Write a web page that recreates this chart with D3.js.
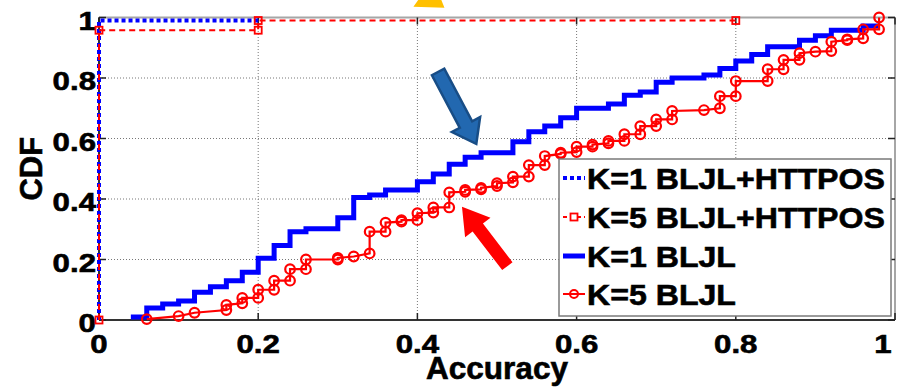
<!DOCTYPE html>
<html>
<head>
<meta charset="utf-8">
<script src="https://cdn.jsdelivr.net/npm/d3@7"></script>
<style>
  html, body { margin: 0; padding: 0; background: #ffffff; }
  svg { display: block; font-family: "Liberation Sans", Arial, sans-serif; font-weight: bold; }
  svg text { stroke: #000; stroke-width: 0.6px; }
</style>
</head>
<body>
<svg id="chart" width="913" height="387"></svg>
<script>
// ---- data ----------------------------------------------------------------
const xTicks = [0, 0.2, 0.4, 0.6, 0.8, 1];
const yTicks = [0, 0.2, 0.4, 0.6, 0.8, 1];
const xTickLabels = ["0", "0.2", "0.4", "0.6", "0.8", "1"];
const yTickLabels = ["0", "0.2", "0.4", "0.6", "0.8", "1"];

const legendLabels = ["K=1 BLJL+HTTPOS", "K=5 BLJL+HTTPOS", "K=1 BLJL", "K=5 BLJL"];

// K=1 BLJL+HTTPOS (accuracy, CDF) vertices
const k1HttposX = [0, 0, 0.2];
const k1HttposY = [0, 0.99, 0.99];

// K=5 BLJL+HTTPOS
const k5HttposX = [0, 0, 0.2, 0.2, 0.8];
const k5HttposY = [0, 0.958, 0.958, 0.99, 0.99];

// K=1 BLJL: step positions and CDF after each step
const k1BljlX = [0.04, 0.06, 0.08, 0.10, 0.12, 0.14, 0.16, 0.18, 0.20, 0.22, 0.24, 0.26, 0.30, 0.32, 0.34, 0.36,
                 0.40, 0.42, 0.44, 0.46, 0.48, 0.52, 0.54, 0.56, 0.58, 0.60, 0.64, 0.66, 0.68, 0.70, 0.72, 0.76,
                 0.78, 0.80, 0.82, 0.84, 0.88, 0.90, 0.92, 0.96, 0.98];
const k1BljlY = [0.01, 0.04, 0.053, 0.063, 0.092, 0.11, 0.13, 0.158, 0.204, 0.246, 0.292, 0.302, 0.338, 0.405, 0.413, 0.43,
                 0.457, 0.483, 0.515, 0.538, 0.553, 0.589, 0.622, 0.641, 0.669, 0.70, 0.714, 0.743, 0.754, 0.786, 0.80, 0.81,
                 0.831, 0.856, 0.878, 0.903, 0.925, 0.94, 0.958, 0.972, 0.972];

// K=5 BLJL vertices (each drawn with a circle marker)
const k5BljlX = [0.06, 0.10, 0.12, 0.16, 0.16, 0.18, 0.18, 0.20, 0.20, 0.22, 0.22, 0.24, 0.24, 0.26, 0.26,
                 0.30, 0.30, 0.32, 0.34, 0.34, 0.36, 0.36, 0.38, 0.38, 0.40, 0.40, 0.42, 0.42, 0.44, 0.44,
                 0.46, 0.46, 0.48, 0.48, 0.50, 0.50, 0.52, 0.52, 0.54, 0.54, 0.56, 0.56, 0.58, 0.58, 0.60, 0.60,
                 0.62, 0.62, 0.64, 0.64, 0.66, 0.66, 0.68, 0.68, 0.70, 0.70, 0.72, 0.72, 0.76, 0.78, 0.78,
                 0.80, 0.80, 0.84, 0.84, 0.86, 0.86, 0.88, 0.88, 0.90, 0.92, 0.92, 0.94, 0.94, 0.96, 0.96, 0.98, 0.98];
const k5BljlY = [0.003, 0.013, 0.024, 0.033, 0.05, 0.055, 0.073, 0.073, 0.10, 0.10, 0.13, 0.13, 0.168, 0.168, 0.20,
                 0.20, 0.205, 0.21, 0.22, 0.292, 0.292, 0.322, 0.325, 0.33, 0.33, 0.353, 0.355, 0.372, 0.372, 0.422,
                 0.424, 0.43, 0.432, 0.437, 0.443, 0.452, 0.455, 0.474, 0.474, 0.512, 0.512, 0.542, 0.549, 0.553, 0.555, 0.573,
                 0.573, 0.58, 0.584, 0.592, 0.592, 0.614, 0.614, 0.641, 0.641, 0.663, 0.663, 0.691, 0.694, 0.70, 0.74,
                 0.74, 0.79, 0.79, 0.829, 0.829, 0.86, 0.86, 0.882, 0.887, 0.889, 0.92, 0.925, 0.928, 0.931, 0.961, 0.961, 1.0];

// annotation arrows in data units: [tailX, tailY, tipX, tipY]
const blueArrow = [0.426, 0.82, 0.474, 0.582];
const redArrow = [0.513, 0.178, 0.456, 0.374];
const yellowArrow = [0.37, 1.15, 0.434, 1.032];

// ---- layout --------------------------------------------------------------
const svg = d3.select("#chart");
const x = d3.scaleLinear().domain([0, 1]).range([99, 895]);
const y = d3.scaleLinear().domain([0, 1]).range([320, 17.5]);
const zip = (a, b) => a.map((v, i) => [v, b[i]]);

const blue = "#0000ff", red = "#ff0000";

// grid
const grid = svg.append("g");
grid.selectAll("line.gx").data(xTicks.slice(1, -1)).join("line")
  .attr("x1", d => x(d)).attr("x2", d => x(d)).attr("y1", y(0)).attr("y2", y(1))
  .attr("stroke", "#777").attr("stroke-width", 1).attr("stroke-dasharray", "1,2");
grid.selectAll("line.gy").data(yTicks.slice(1, -1)).join("line")
  .attr("y1", d => y(d)).attr("y2", d => y(d)).attr("x1", x(0)).attr("x2", x(1))
  .attr("stroke", "#777").attr("stroke-width", 1).attr("stroke-dasharray", "1,2");

// frame: grey top/right, dark left/bottom
svg.append("line").attr("x1", x(0)).attr("x2", x(1)).attr("y1", y(1)).attr("y2", y(1))
  .attr("stroke", "#a6a6a6").attr("stroke-width", 2);
svg.append("line").attr("x1", x(1)).attr("x2", x(1)).attr("y1", y(0)).attr("y2", y(1))
  .attr("stroke", "#a6a6a6").attr("stroke-width", 2);
svg.append("line").attr("x1", x(0)).attr("x2", x(1)).attr("y1", y(0)).attr("y2", y(0))
  .attr("stroke", "#333").attr("stroke-width", 2);
svg.append("line").attr("x1", x(0)).attr("x2", x(0)).attr("y1", y(0)).attr("y2", y(1))
  .attr("stroke", "#333").attr("stroke-width", 2);

// inward tick marks
const tl = 7;
const ticks = svg.append("g").attr("stroke", "#222").attr("stroke-width", 1.5);
xTicks.forEach(t => {
  ticks.append("line").attr("x1", x(t)).attr("x2", x(t)).attr("y1", y(0)).attr("y2", y(0) - tl);
  ticks.append("line").attr("x1", x(t)).attr("x2", x(t)).attr("y1", y(1)).attr("y2", y(1) + tl);
});
yTicks.forEach(t => {
  ticks.append("line").attr("y1", y(t)).attr("y2", y(t)).attr("x1", x(0)).attr("x2", x(0) + tl);
  ticks.append("line").attr("y1", y(t)).attr("y2", y(t)).attr("x1", x(1)).attr("x2", x(1) - tl);
});

// widen a text element horizontally by a factor
function stretch(sel, k) {
  sel.each(function () {
    const len = this.getComputedTextLength();
    d3.select(this).attr("textLength", len * k).attr("lengthAdjust", "spacingAndGlyphs");
  });
}

// tick labels
const xl = svg.append("g").selectAll("text").data(xTicks).join("text")
  .attr("x", (d, i) => x(d) + (i === xTicks.length - 1 ? -12 : 0))
  .attr("y", 353).attr("text-anchor", "middle").attr("font-size", 26).attr("fill", "#000")
  .text((d, i) => xTickLabels[i]);
stretch(xl, 1.2);
const yl = svg.append("g").selectAll("text").data(yTicks).join("text")
  .attr("x", 96).attr("y", d => y(d) + 12).attr("text-anchor", "end")
  .attr("font-size", 26).attr("fill", "#000")
  .text((d, i) => yTickLabels[i]);
stretch(yl, 1.2);

// axis titles
svg.append("text").attr("x", x(0.5)).attr("y", 379).attr("text-anchor", "middle")
  .attr("font-size", 31.5).text("Accuracy");
svg.append("text").attr("transform", `translate(42,${y(0.5)}) rotate(-90)`)
  .attr("text-anchor", "middle").attr("font-size", 31).text("CDF");

// ---- series --------------------------------------------------------------
const line = d3.line().x(d => x(d[0])).y(d => y(d[1]));
const stepLine = d3.line().x(d => x(d[0])).y(d => y(d[1])).curve(d3.curveStepAfter);

// K=1 BLJL (thick blue staircase)
svg.append("path").datum(zip(k1BljlX, k1BljlY)).attr("d", stepLine)
  .attr("fill", "none").attr("stroke", blue).attr("stroke-width", 5);

// K=5 BLJL (red with circles)
const k5 = zip(k5BljlX, k5BljlY);
svg.append("path").datum(k5).attr("d", line)
  .attr("fill", "none").attr("stroke", red).attr("stroke-width", 2.2);
svg.append("g").selectAll("circle").data(k5).join("circle")
  .attr("cx", d => x(d[0])).attr("cy", d => y(d[1])).attr("r", 4.8)
  .attr("fill", "none").attr("stroke", red).attr("stroke-width", 2.2);

// K=1 BLJL+HTTPOS (blue dotted)
svg.append("path").datum(zip(k1HttposX, k1HttposY)).attr("d", line)
  .attr("fill", "none").attr("stroke", blue).attr("stroke-width", 4).attr("stroke-dasharray", "4,3");

// K=5 BLJL+HTTPOS (red dashed with squares)
const k5h = zip(k5HttposX, k5HttposY);
svg.append("path").datum(k5h).attr("d", line)
  .attr("fill", "none").attr("stroke", red).attr("stroke-width", 2).attr("stroke-dasharray", "6,4");
svg.append("g").selectAll("rect").data(k5h).join("rect")
  .attr("x", d => x(d[0]) - 3.5).attr("y", d => y(d[1]) - 3.5).attr("width", 7).attr("height", 7)
  .attr("fill", "none").attr("stroke", red).attr("stroke-width", 1.8);

// ---- legend --------------------------------------------------------------
const lg = svg.append("g");
lg.append("rect").attr("x", 559).attr("y", 159).attr("width", 332).attr("height", 157)
  .attr("fill", "#fff").attr("stroke", "#7a7a7a").attr("stroke-width", 1.5);
const rowY = [178, 217, 256, 294];
const sx0 = 563, sx1 = 585, sm = 574;
lg.append("line").attr("x1", sx0).attr("x2", sx1).attr("y1", rowY[0]).attr("y2", rowY[0])
  .attr("stroke", blue).attr("stroke-width", 4).attr("stroke-dasharray", "4,3");
lg.append("line").attr("x1", sx0).attr("x2", sx1).attr("y1", rowY[1]).attr("y2", rowY[1])
  .attr("stroke", red).attr("stroke-width", 2).attr("stroke-dasharray", "4,3");
lg.append("rect").attr("x", sm - 3.5).attr("y", rowY[1] - 3.5).attr("width", 7).attr("height", 7)
  .attr("fill", "#fff").attr("stroke", red).attr("stroke-width", 1.8);
lg.append("line").attr("x1", sx0).attr("x2", sx1).attr("y1", rowY[2]).attr("y2", rowY[2])
  .attr("stroke", blue).attr("stroke-width", 5);
lg.append("line").attr("x1", sx0).attr("x2", sx1).attr("y1", rowY[3]).attr("y2", rowY[3])
  .attr("stroke", red).attr("stroke-width", 2);
lg.append("circle").attr("cx", sm).attr("cy", rowY[3]).attr("r", 4)
  .attr("fill", "none").attr("stroke", red).attr("stroke-width", 2);
const lt = lg.selectAll("text").data(legendLabels).join("text")
  .attr("x", 587).attr("y", (d, i) => rowY[i] + 11).attr("font-size", 30).attr("fill", "#000")
  .text(d => d);
stretch(lt, 1.07);

// ---- annotation arrows ---------------------------------------------------
function arrowPath(a, shaft, headW, headL) {
  const x0 = x(a[0]), y0 = y(a[1]), x1 = x(a[2]), y1 = y(a[3]);
  const dx = x1 - x0, dy = y1 - y0, L = Math.hypot(dx, dy);
  const ux = dx / L, uy = dy / L, px = -uy, py = ux;
  const bx = x1 - ux * headL, by = y1 - uy * headL;
  const pts = [
    [x0 + px * shaft / 2, y0 + py * shaft / 2],
    [bx + px * shaft / 2, by + py * shaft / 2],
    [bx + px * headW / 2, by + py * headW / 2],
    [x1, y1],
    [bx - px * headW / 2, by - py * headW / 2],
    [bx - px * shaft / 2, by - py * shaft / 2],
    [x0 - px * shaft / 2, y0 - py * shaft / 2]
  ];
  return "M" + pts.map(p => p.join(",")).join("L") + "Z";
}
svg.append("path").attr("d", arrowPath(blueArrow, 14, 32, 22))
  .attr("fill", "#2268b0").attr("stroke", "#184d86").attr("stroke-width", 2.5);
svg.append("path").attr("d", arrowPath(redArrow, 13, 32, 26)).attr("fill", "#ff0000");
svg.append("path").attr("d", arrowPath(yellowArrow, 14, 34, 26)).attr("fill", "#ffc000");
</script>
</body>
</html>
